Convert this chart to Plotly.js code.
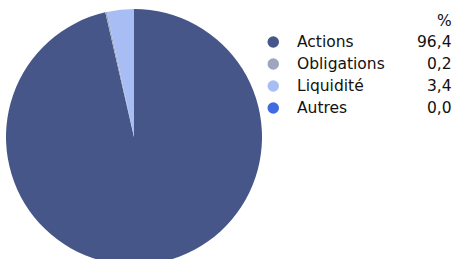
<!DOCTYPE html>
<html>
<head>
<meta charset="utf-8">
<script src="https://cdn.plot.ly/plotly-3.0.1.min.js"></script>
<style>
html,body{margin:0;padding:0;overflow:hidden;background:#fff;}
#chart{width:455px;height:280px;}
</style>
</head>
<body>
<div id="chart"></div>
<script>
const categories = ["Actions", "Obligations", "Liquidité", "Autres"];
const values = [96.4, 0.2, 3.4, 0.0];
const valueLabels = ["96,4", "0,2", "3,4", "0,0"];
const colors = ["#465688", "#9ea6bf", "#a8bdf3", "#4169e1"];
const unitHeader = "%";

const W = 455, H = 280;
const px = x => x / W;
const py = y => 1 - y / H;

const shapes = [];
const annotations = [];
const font = {family: "DejaVu Sans, Verdana, sans-serif", size: 15.5, color: "#111"};
annotations.push({xref:"paper", yref:"paper", x: px(454), y: py(21), xanchor:"right", yanchor:"middle",
  text: unitHeader, showarrow:false, font});
categories.forEach((c, i) => {
  const yc = 42 + i * 22;
  shapes.push({type:"circle", xref:"paper", yref:"paper",
    x0: px(267.5), x1: px(279), y0: py(yc - 5.75), y1: py(yc + 5.75),
    fillcolor: colors[i], line:{width:0}});
  annotations.push({xref:"paper", yref:"paper", x: px(295), y: py(yc), xanchor:"left", yanchor:"middle",
    text: c, showarrow:false, font});
  annotations.push({xref:"paper", yref:"paper", x: px(454), y: py(yc), xanchor:"right", yanchor:"middle",
    text: valueLabels[i], showarrow:false, font});
});

Plotly.newPlot("chart", [{
  type: "pie",
  labels: categories,
  values: values,
  sort: false,
  direction: "clockwise",
  rotation: 0,
  textinfo: "none",
  hoverinfo: "none",
  marker: {colors: colors, line: {width: 0}},
  domain: {x: [px(6), px(262)], y: [py(265), py(9)]}
}], {
  width: W, height: H,
  margin: {l:0, r:0, t:0, b:0},
  paper_bgcolor: "#fff",
  showlegend: false,
  shapes, annotations
}, {staticPlot: true});
</script>
</body>
</html>
